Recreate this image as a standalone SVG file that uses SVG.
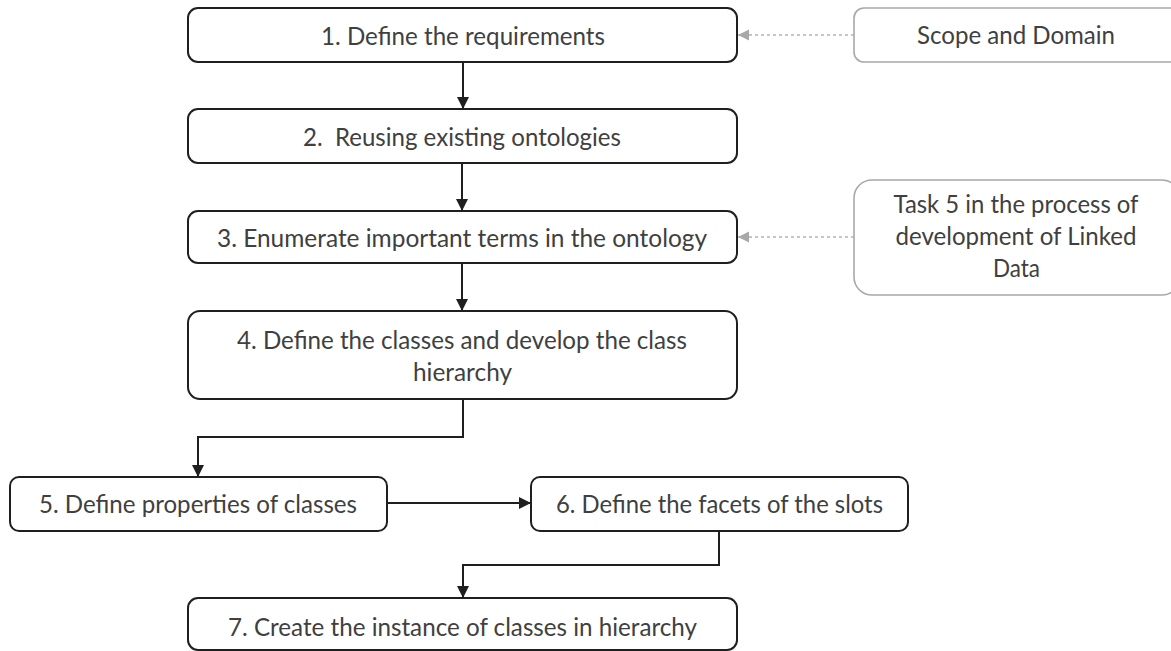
<svg xmlns="http://www.w3.org/2000/svg" width="1171" height="651" viewBox="0 0 1171 651">
  <defs>
    <style>
      .step { fill: #ffffff; stroke: #1f1f1f; stroke-width: 2; }
      .note { fill: #ffffff; stroke: #a8a8a8; stroke-width: 1.6; }
      .label { font-family: Lato, "Open Sans", "Liberation Sans", sans-serif; font-size: 25px; font-weight: 400; fill: #404040; text-anchor: middle; }
      .flow { fill: none; stroke: #1f1f1f; stroke-width: 2; }
      .hint { fill: none; stroke: #b4b4b4; stroke-width: 1.6; stroke-dasharray: 3 3; }
    </style>
    <marker id="arrow" viewBox="0 0 10 10" refX="10" refY="5" markerWidth="6" markerHeight="6" markerUnits="strokeWidth" orient="auto">
      <path d="M0,0 L10,5 L0,10 Z" fill="#1f1f1f"/>
    </marker>
    <marker id="arrow-grey" viewBox="0 0 10 10" refX="10" refY="5" markerWidth="7" markerHeight="7" markerUnits="strokeWidth" orient="auto">
      <path d="M0,0 L10,5 L0,10 Z" fill="#a8a8a8"/>
    </marker>
  </defs>
  <rect width="1171" height="651" fill="#ffffff"/>

  <!-- connectors -->
  <g id="connectors">
    <path class="flow" d="M463,62 V109" marker-end="url(#arrow)"/>
    <path class="flow" d="M462,163 V211" marker-end="url(#arrow)"/>
    <path class="flow" d="M462,263 V311" marker-end="url(#arrow)"/>
    <path class="flow" d="M463,399 V437 H198 V477" marker-end="url(#arrow)"/>
    <path class="flow" d="M387,503 H531" marker-end="url(#arrow)"/>
    <path class="flow" d="M719,531 V565 H463 V598" marker-end="url(#arrow)"/>
    <path class="hint" d="M854,35 H738" marker-end="url(#arrow-grey)"/>
    <path class="hint" d="M854,237 H738" marker-end="url(#arrow-grey)"/>
  </g>

  <g id="step1">
    <rect class="step" x="188" y="8" width="549" height="54" rx="10"/>
    <text class="label" x="463" y="45" textLength="284" lengthAdjust="spacingAndGlyphs">1. Define the requirements</text>
  </g>
  <g id="step2">
    <rect class="step" x="188" y="109" width="549" height="54" rx="10"/>
    <text class="label" x="462" y="146" textLength="318" lengthAdjust="spacingAndGlyphs" xml:space="preserve">2.  Reusing existing ontologies</text>
  </g>
  <g id="step3">
    <rect class="step" x="188" y="211" width="549" height="52" rx="10"/>
    <text class="label" x="462" y="247" textLength="490" lengthAdjust="spacingAndGlyphs">3. Enumerate important terms in the ontology</text>
  </g>
  <g id="step4">
    <rect class="step" x="188" y="311" width="549" height="88" rx="12"/>
    <text class="label" x="462" y="349" textLength="450" lengthAdjust="spacingAndGlyphs">4. Define the classes and develop the class</text>
    <text class="label" x="462.5" y="381" textLength="99" lengthAdjust="spacingAndGlyphs">hierarchy</text>
  </g>
  <g id="step5">
    <rect class="step" x="10" y="477" width="377" height="54" rx="9"/>
    <text class="label" x="198" y="513" textLength="318" lengthAdjust="spacingAndGlyphs">5. Define properties of classes</text>
  </g>
  <g id="step6">
    <rect class="step" x="531" y="477" width="377" height="54" rx="9"/>
    <text class="label" x="719.5" y="513" textLength="327" lengthAdjust="spacingAndGlyphs">6. Define the facets of the slots</text>
  </g>
  <g id="step7">
    <rect class="step" x="188" y="598" width="549" height="52" rx="10"/>
    <text class="label" x="462.5" y="636" textLength="469" lengthAdjust="spacingAndGlyphs">7. Create the instance of classes in hierarchy</text>
  </g>
  <g id="scope-note">
    <rect class="note" x="854" y="8" width="326" height="54" rx="10"/>
    <text class="label" x="1016" y="44" textLength="198" lengthAdjust="spacingAndGlyphs">Scope and Domain</text>
  </g>
  <g id="task-note">
    <rect class="note" x="854" y="180" width="326" height="115" rx="18"/>
    <text class="label" x="1016" y="213" textLength="245" lengthAdjust="spacingAndGlyphs">Task 5 in the process of</text>
    <text class="label" x="1016" y="245" textLength="241" lengthAdjust="spacingAndGlyphs">development of Linked</text>
    <text class="label" x="1016.5" y="277" textLength="47" lengthAdjust="spacingAndGlyphs">Data</text>
  </g>
</svg>
